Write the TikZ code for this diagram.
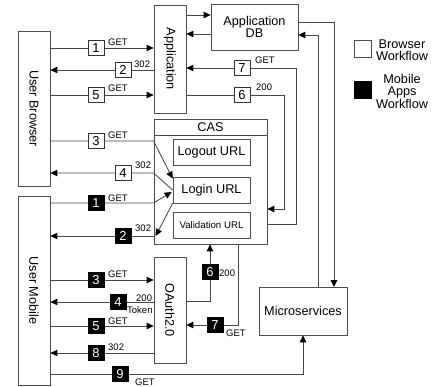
\documentclass[tikz,border=0pt]{standalone}
\usepackage{fontspec}
\setmainfont{Liberation Sans}
\usetikzlibrary{arrows.meta,backgrounds}
\begin{document}
\begin{tikzpicture}[x=1pt,y=-1pt,
  box/.style={draw=black!70, line width=0.8pt, inner sep=0pt},
  txt/.style={font=\fontsize{12.7}{12.5}\selectfont, align=center, inner sep=0pt},
  conn/.style={draw=black!72, line width=0.85pt},
  arr/.style={conn, -{Triangle[length=7pt,width=6.5pt,color=black]}},
  numw/.style={draw=black!80, fill=white, line width=0.8pt, minimum width=16pt, minimum height=15pt, inner sep=0pt, font=\fontsize{13}{13}\selectfont},
  numb/.style={numw, fill=black, text=white, draw=black},
  lbl/.style={font=\fontsize{9.5}{9.5}\selectfont, inner sep=0pt, anchor=base west}]
\useasboundingbox (0,0) rectangle (433,387);
% main boxes
\node[box, minimum width=32pt, minimum height=155pt] (UB) at (34,108.5) {};
\node[txt, rotate=-90] (UBt) at (UB.center) {User Browser};
\node[box, minimum width=32pt, minimum height=189pt] (UM) at (34,290.5) {};
\node[txt, rotate=-90] (UMt) at (UM.center) {User Mobile};
\node[box, minimum width=32pt, minimum height=108pt] (App) at (170,59) {};
\node[txt, rotate=-90] (Appt) at (App.center) {Application};
\node[box, minimum width=87pt, minimum height=46pt, txt] (DB) at (254.5,27) {Application\\DB};
\node[box, minimum width=113pt, minimum height=125pt] (CAS) at (210.5,181.5) {};
\draw[conn] (CAS.west |- 0,135) -- (CAS.east |- 0,135);
\node[txt] (CASt) at (210.5,127) {CAS};
\node[box, txt, minimum width=77pt, minimum height=26pt] (Logout) at (211.5,152) {Logout URL};
\node[box, txt, minimum width=77pt, minimum height=26pt] (Login) at (211.5,190) {Login URL};
\node[box, minimum width=77pt, minimum height=26pt, font=\fontsize{9.7}{10}\selectfont] (Valid) at (211.5,225) {Validation URL};
\node[box, minimum width=32pt, minimum height=106pt] (OA) at (170,310) {};
\node[txt, rotate=-90] (OAt) at (OA.center) {OAuth2.0};
\node[box, txt, minimum width=88pt, minimum height=48pt] (MS) at (303,311) {Microservices};
% legend
\node[box, fill=white, minimum width=17pt, minimum height=17pt] (LW) at (362.5,48.5) {};
\node[box, fill=black, draw=black, minimum width=17pt, minimum height=17pt] (LB) at (362.5,90) {};
\node[txt] (LWt) at (402,50) {Browser\\Workflow};
\node[txt] (LBt) at (402,91) {Mobile\\Apps\\Workflow};
% number boxes
\node[numw] (b1) at (96,48) {1};
\node[numw] (b2) at (123,70) {2};
\node[numw] (b5) at (96,95) {5};
\node[numw] (b3) at (96,141) {3};
\node[numw] (b4) at (123,173) {4};
\node[numw] (b7) at (242,68) {7};
\node[numw] (b6) at (242,95) {6};
\node[numb] (m1) at (96,203) {1};
\node[numb] (m2) at (123,236) {2};
\node[numb] (m3) at (96,280) {3};
\node[numb] (m4) at (118,302) {4};
\node[numb] (m5) at (96,326) {5};
\node[numb] (m8) at (96,353) {8};
\node[numb] (m6) at (210,272) {6};
\node[numb] (m7) at (215,325) {7};
\node[numb] (m9) at (120,374) {9};
% labels
\node[lbl] at (108,45.5) {GET};
\node[lbl] at (134,68) {302};
\node[lbl] at (108,92) {GET};
\node[lbl] at (108,139) {GET};
\node[lbl] at (135,169) {302};
\node[lbl] at (108,201) {GET};
\node[lbl] at (135,232) {302};
\node[lbl] at (108,277) {GET};
\node[lbl] at (136,301) {200};
\node[lbl] at (127,313) {Token};
\node[lbl] at (108,324) {GET};
\node[lbl] at (108,350) {302};
\node[lbl] at (219,276) {200};
\node[lbl] at (226,336) {GET};
\node[lbl] at (135,385.5) {GET};
\node[lbl] at (255,63.5) {GET};
\node[lbl] at (256,91) {200};
% connectors
\begin{scope}[on background layer]
\draw[arr] (UB.east |- b1) -- (App.west |- b1);
\draw[arr] (App.west |- b2) -- (UB.east |- b2);
\draw[arr] (UB.east |- b5) -- (App.west |- b5);
\draw[arr] (UB.east |- b3) -- (CAS.west |- b3) -- ([yshift=-2pt]Login.north west);
\draw[arr] (Login.west) -- (CAS.west |- b4) -- (UB.east |- b4);
\draw[arr] (UM.east |- m1) -- (CAS.west |- m1) -- ([xshift=-1pt,yshift=-2pt]Login.west);
\draw[arr] (Login.south west) -- ([xshift=2pt]CAS.west |- m2);
\draw[arr] (CAS.west |- m2) -- (UM.east |- m2);
\draw[arr] (UM.east |- m3) -- (OA.west |- m3);
\draw[arr] (OA.west |- m4) -- (UM.east |- m4);
\draw[arr] (UM.east |- m5) -- (OA.west |- m5);
\draw[arr] (OA.west |- m8) -- (UM.east |- m8);
\draw[arr] (OA.east |- 0,301) -- (m6 |- 0,301) -- (m6 |- CAS.south);
\draw[arr] (238,244) -- (238,325) -- (OA.east |- m7);
\draw[arr] (UM.east |- m9) -- (MS.south |- m9) -- (MS.south);
\draw[arr] (App.east |- b6) -- (284,95) -- (284,209) -- (CAS.east |- 0,209);
\draw[arr] (CAS.east |- 0,224) -- (296,224) -- (296,68) -- (App.east |- b7);
\draw[arr] (App.east |- 0,15) -- (DB.west |- 0,15);
\draw[arr] (DB.west |- 0,34) -- (App.east |- 0,34);
\draw[arr] (DB.east |- 0,22) -- (334,22) -- (334,287);
\draw[arr] (318,287) -- (318,35) -- (DB.east |- 0,35);
\end{scope}
\end{tikzpicture}
\end{document}
